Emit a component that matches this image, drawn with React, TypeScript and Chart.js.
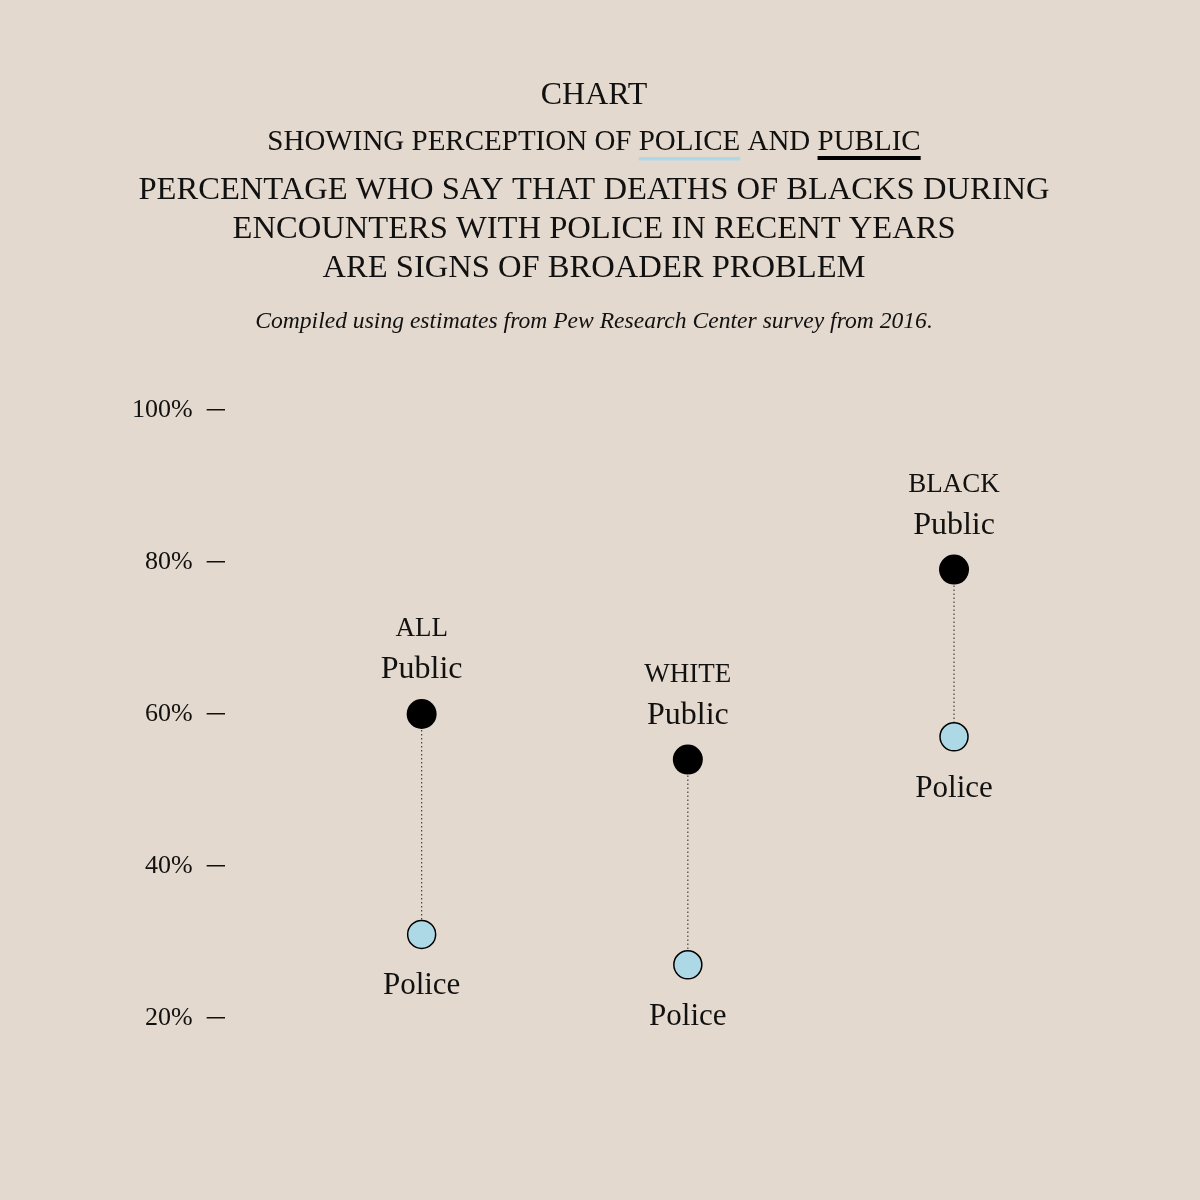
import React, { useEffect, useRef } from "react";
import { Chart, registerables } from "chart.js";

Chart.register(...registerables);

const groups = ["ALL", "WHITE", "BLACK"];
const publicValues = [60, 54, 79];
const policeValues = [31, 27, 57];
const yTicks = [20, 40, 60, 80, 100];

const titleText = "CHART";
const subtitleParts = ["SHOWING PERCEPTION OF ", "POLICE", " AND ", "PUBLIC"];
const headlineLines = [
  "PERCENTAGE WHO SAY THAT DEATHS OF BLACKS DURING",
  "ENCOUNTERS WITH POLICE IN RECENT YEARS",
  "ARE SIGNS OF BROADER PROBLEM",
];
const sourceNote = "Compiled using estimates from Pew Research Center survey from 2016.";
const publicLabel = "Public";
const policeLabel = "Police";

const SERIF = '"Liberation Serif", "Times New Roman", serif';
const BG = "#e4d9ce";
const INK = "#111111";
const POLICE_COLOR = "#add8e6";
const PUBLIC_COLOR = "#000000";

const headerPlugin = {
  id: "header",
  afterDraw(chart: any) {
    const ctx = chart.ctx;
    const cx = 594;
    ctx.save();
    ctx.fillStyle = INK;
    ctx.textBaseline = "alphabetic";
    ctx.textAlign = "center";

    ctx.font = `32px ${SERIF}`;
    ctx.fillText(titleText, cx, 104);

    // subtitle with coloured underlines
    ctx.font = `29px ${SERIF}`;
    const widths = subtitleParts.map((p) => ctx.measureText(p).width);
    const total = widths.reduce((a, b) => a + b, 0);
    let x = cx - total / 2;
    ctx.textAlign = "left";
    subtitleParts.forEach((p, i) => {
      ctx.fillStyle = INK;
      ctx.fillText(p, x, 150);
      if (i === 1) {
        ctx.fillStyle = POLICE_COLOR;
        ctx.fillRect(x, 157, widths[i], 3.5);
      }
      if (i === 3) {
        ctx.fillStyle = PUBLIC_COLOR;
        ctx.fillRect(x, 156, widths[i], 4);
      }
      x += widths[i];
    });

    ctx.textAlign = "center";
    ctx.fillStyle = INK;
    ctx.font = `32.6px ${SERIF}`;
    headlineLines.forEach((line, i) => {
      ctx.fillText(line, cx, 199 + i * 39);
    });

    ctx.font = `italic 23.6px ${SERIF}`;
    ctx.fillText(sourceNote, cx, 328);
    ctx.restore();
  },
};

const connectorPlugin = {
  id: "connectors",
  beforeDatasetsDraw(chart: any) {
    const ctx = chart.ctx;
    const xs = chart.scales.x;
    const ys = chart.scales.y;
    ctx.save();
    ctx.strokeStyle = "#444444";
    ctx.lineWidth = 1.2;
    ctx.setLineDash([1.5, 2.5]);
    groups.forEach((_, i) => {
      const x = xs.getPixelForValue(i);
      ctx.beginPath();
      ctx.moveTo(x, ys.getPixelForValue(publicValues[i]));
      ctx.lineTo(x, ys.getPixelForValue(policeValues[i]));
      ctx.stroke();
    });
    ctx.restore();
  },
  afterDatasetsDraw(chart: any) {
    const ctx = chart.ctx;
    const xs = chart.scales.x;
    const ys = chart.scales.y;
    ctx.save();
    ctx.fillStyle = INK;
    ctx.textAlign = "center";
    ctx.textBaseline = "alphabetic";
    groups.forEach((g, i) => {
      const x = xs.getPixelForValue(i);
      const yPub = ys.getPixelForValue(publicValues[i]);
      const yPol = ys.getPixelForValue(policeValues[i]);
      ctx.font = `27px ${SERIF}`;
      ctx.fillText(g, x, yPub - 78);
      ctx.font = `32px ${SERIF}`;
      ctx.fillText(publicLabel, x, yPub - 36);
      ctx.font = `31px ${SERIF}`;
      ctx.fillText(policeLabel, x, yPol + 60);
    });
    ctx.restore();
  },
};

export default function App() {
  const canvasRef = useRef<HTMLCanvasElement | null>(null);

  useEffect(() => {
    if (!canvasRef.current) return;
    const chart = new Chart(canvasRef.current, {
      type: "scatter",
      data: {
        datasets: [
          {
            label: policeLabel,
            data: policeValues.map((v, i) => ({ x: i, y: v })),
            pointRadius: 14,
            pointBackgroundColor: POLICE_COLOR,
            pointBorderColor: "#000000",
            pointBorderWidth: 1.5,
          },
          {
            label: publicLabel,
            data: publicValues.map((v, i) => ({ x: i, y: v })),
            pointRadius: 15,
            pointBackgroundColor: PUBLIC_COLOR,
            pointBorderColor: PUBLIC_COLOR,
            pointBorderWidth: 0,
          },
        ],
      },
      options: {
        animation: false,
        responsive: false,
        devicePixelRatio: 1,
        layout: { padding: { left: 118, top: 410, right: 49, bottom: 182 } },
        plugins: {
          legend: { display: false },
          tooltip: { enabled: false },
          title: { display: false },
        },
        scales: {
          x: { type: "linear", min: -0.74, max: 2.74, display: false },
          y: {
            min: 20,
            max: 100,
            afterBuildTicks: (scale: any) => {
              scale.ticks = yTicks.map((v) => ({ value: v }));
            },
            ticks: {
              callback: (v: any) => `${v}%`,
              color: INK,
              font: { family: SERIF, size: 26 },
              padding: 14,
            },
            grid: {
              drawOnChartArea: false,
              drawTicks: true,
              tickLength: 18,
              color: INK,
              lineWidth: 1.5,
            },
            border: { display: false },
          },
        },
      },
      plugins: [headerPlugin, connectorPlugin],
    });
    return () => chart.destroy();
  }, []);

  return (
    <div
      style={{
        position: "absolute",
        left: 0,
        top: 0,
        width: 1200,
        height: 1200,
        background: BG,
      }}
    >
      <canvas ref={canvasRef} width={1200} height={1200} style={{ display: "block" }} />
    </div>
  );
}
